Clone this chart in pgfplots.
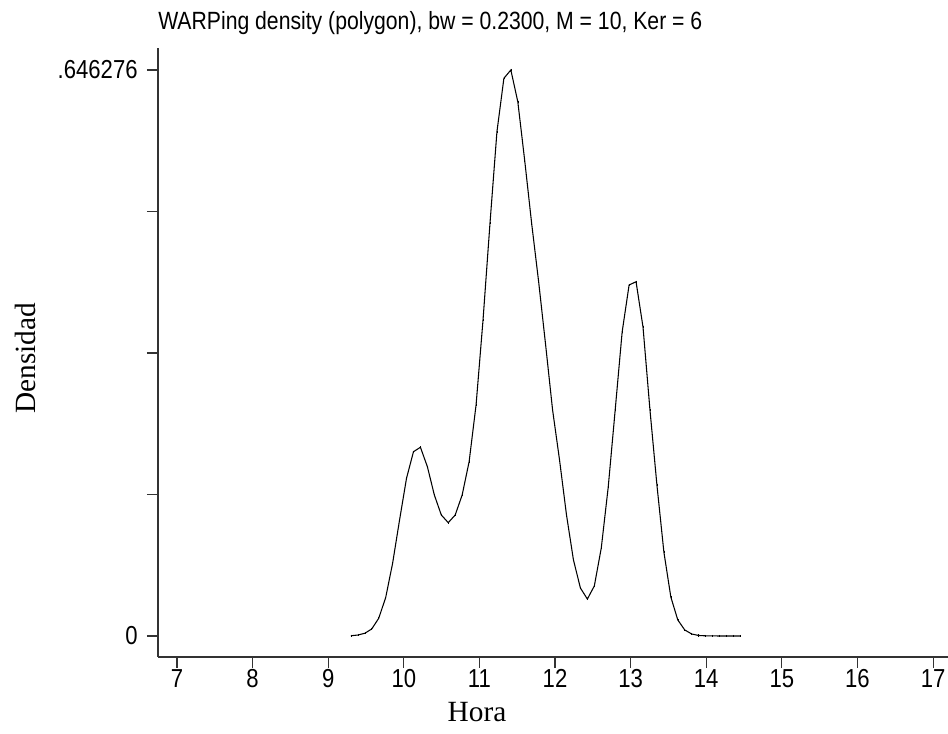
\documentclass[border=0pt]{standalone}
\usepackage{pgfplots}
\pgfplotsset{compat=1.18}
\usepackage{fontspec}
\setmainfont{Liberation Serif}
\newfontfamily\stata[FakeStretch=0.85]{Liberation Sans}
\pgfplotstableread{
x y
9.300 0.0003
9.392 0.0011
9.484 0.0031
9.576 0.0080
9.668 0.0202
9.760 0.0437
9.852 0.0830
9.944 0.1325
10.036 0.1801
10.128 0.2104
10.220 0.2155
10.312 0.1933
10.404 0.1610
10.496 0.1382
10.588 0.1294
10.680 0.1382
10.772 0.1610
10.864 0.1990
10.956 0.2638
11.048 0.3608
11.140 0.4712
11.232 0.5758
11.324 0.6368
11.416 0.6463
11.508 0.6100
11.600 0.5424
11.692 0.4704
11.784 0.4042
11.876 0.3323
11.968 0.2581
12.060 0.2010
12.152 0.1382
12.244 0.0868
12.336 0.0548
12.428 0.0422
12.520 0.0571
12.612 0.1005
12.704 0.1701
12.796 0.2581
12.888 0.3471
12.980 0.4008
13.072 0.4045
13.164 0.3528
13.256 0.2581
13.348 0.1724
13.440 0.0959
13.532 0.0445
13.624 0.0183
13.716 0.0069
13.808 0.0023
13.900 0.0006
13.992 0.0002
14.084 0.0001
14.176 0.0000
14.268 0.0000
14.360 0.0000
14.452 0.0000
}\dens
\begin{document}
\begin{tikzpicture}
\path[use as bounding box] (-118.5pt,-57.75pt) rectangle (592.5pt,492.75pt);
\begin{axis}[
  at={(0,0)}, anchor=south west,
  scale only axis, width=592.5pt, height=456.75pt,
  axis lines*=left,
  axis line style={line width=0.8pt, black!80},
  xmin=6.749, xmax=17.198, ymin=-0.02398, ymax=0.6714,
  xtick={7,8,...,17},
  xticklabels={7,8,9,10,11,12,13,14,15,16,17},
  ytick={0,0.161569,0.323138,0.484707,0.646276},
  yticklabels={0,,,,.646276},
  tick align=outside,
  major tick length=8.25pt,
  tick style={line width=0.8pt, black!80},
  ticklabel style={font=\stata\fontsize{19.5pt}{21pt}\selectfont},
  xticklabel style={yshift=2.5pt},
  yticklabel style={xshift=-3.5pt},
  clip=false,
]
\addplot[black, line width=0.8pt, mark=|, mark size=0.8pt, mark options={line width=0.4pt}] table {\dens};
\node[anchor=base west, font=\stata\fontsize{18.7pt}{20pt}\selectfont, inner sep=0pt]
  at ([yshift=13.5pt]rel axis cs:0,1) {WARPing density (polygon), bw = 0.2300, M = 10, Ker = 6};
\node[rotate=90, font=\fontsize{22pt}{24pt}\selectfont, inner sep=0pt]
  at ([xshift=-99.75pt,yshift=224pt]rel axis cs:0,0) {Densidad};
\node[anchor=base, font=\fontsize{22pt}{24pt}\selectfont, inner sep=0pt]
  at ([xshift=239.25pt,yshift=-48pt]rel axis cs:0,0) {Hora};
\end{axis}
\end{tikzpicture}
\end{document}
